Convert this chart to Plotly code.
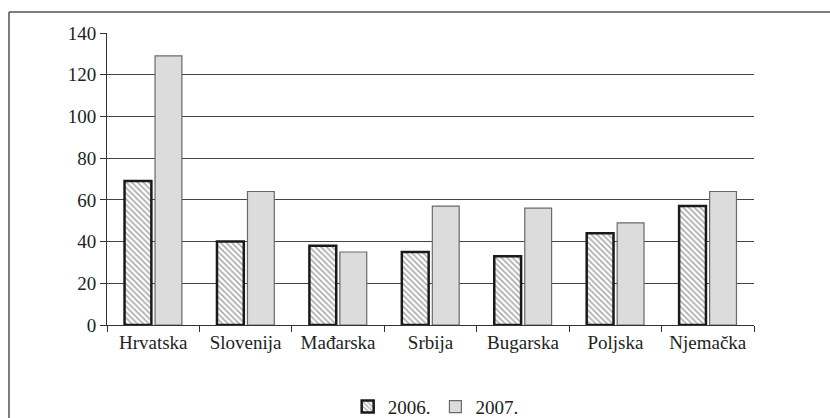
import plotly.graph_objects as go

categories = ["Hrvatska", "Slovenija", "Mađarska", "Srbija", "Bugarska", "Poljska", "Njemačka"]
values_2006 = [69, 40, 38, 35, 33, 44, 57]
values_2007 = [129, 64, 35, 57, 56, 49, 64]
series_names = ["2006.", "2007."]
y_ticks = [0, 20, 40, 60, 80, 100, 120, 140]

fig = go.Figure()
fig.add_trace(go.Bar(
    x=categories, y=values_2006, name=series_names[0],
    marker=dict(color="white",
                line=dict(color="#1a1a1a", width=2.5),
                pattern=dict(shape="\\", fgcolor="#555555", bgcolor="white",
                             size=4, solidity=0.4)),
))
fig.add_trace(go.Bar(
    x=categories, y=values_2007, name=series_names[1],
    marker=dict(color="#dcdcdc", line=dict(color="#6a6a6a", width=1.2)),
))

font = dict(family="Liberation Serif", size=19, color="#222222")

fig.update_layout(
    width=830, height=418,
    margin=dict(l=107, r=76, t=33, b=93, autoexpand=False),
    paper_bgcolor="white", plot_bgcolor="white",
    barmode="group", bargap=0.34, bargroupgap=0.12,
    font=font,
    showlegend=True,
    legend=dict(orientation="h", x=0.508, xanchor="center", xref="paper",
                y=0.027, yanchor="middle", yref="container",
                font=font, itemwidth=30, traceorder="normal", bgcolor="rgba(0,0,0,0)"),
    xaxis=dict(showline=True, linecolor="#333333", linewidth=1,
               ticks="outside", ticklen=6, tickcolor="#333333",
               tickson="boundaries", showgrid=False, tickfont=font, automargin=False),
    yaxis=dict(range=[0, 140], tickvals=y_ticks, showline=True, linecolor="#333333",
               linewidth=1, ticks="outside", ticklen=6, tickcolor="#333333",
               showgrid=True, gridcolor="#444444", gridwidth=1, zeroline=False,
               tickfont=font, automargin=False),
    shapes=[
        dict(type="line", xref="paper", yref="paper", x0=-0.1515, x1=1.2, y0=1.0719, y1=1.0719,
             line=dict(color="#555555", width=1.5)),
        dict(type="line", xref="paper", yref="paper", x0=-0.1515, x1=-0.1515, y0=1.0719, y1=-0.4,
             line=dict(color="#555555", width=1.5)),
    ],
)

fig.write_html("out.html", config={"displayModeBar": False},
               post_script="document.body.style.margin='0';")
